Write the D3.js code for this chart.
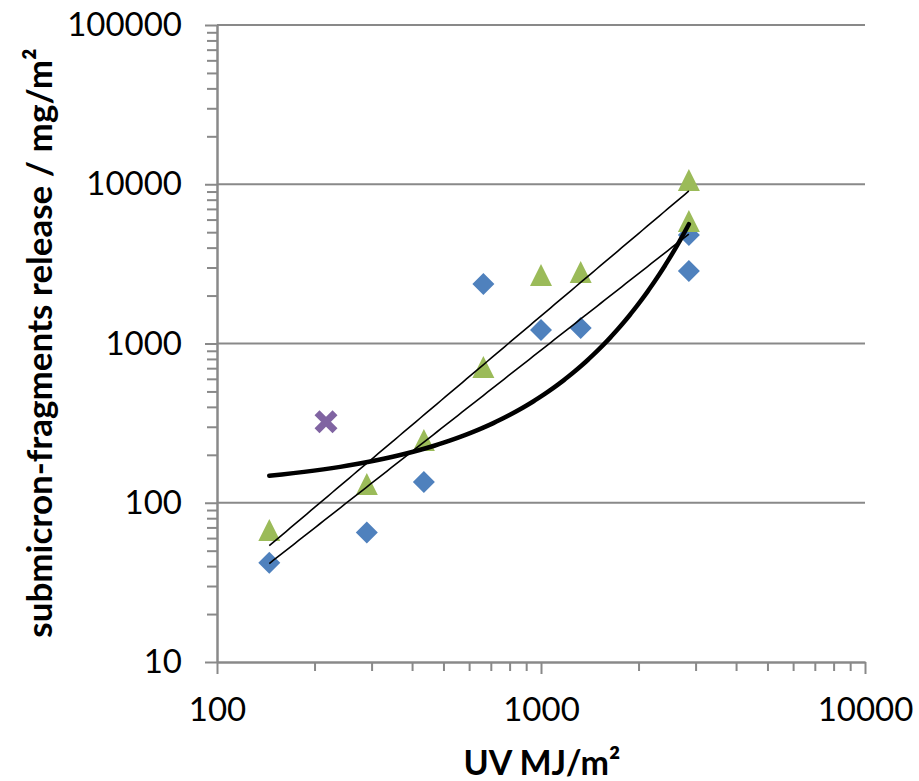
<!DOCTYPE html>
<html><head><meta charset="utf-8">
<script src="https://cdn.jsdelivr.net/npm/d3@7"></script>
<style>body{margin:0;background:#fff}</style></head>
<body><svg id="c" width="919" height="781"></svg>
<script>
const blueX = [145, 290, 435, 664, 1000, 1326, 2860, 2860];
const blueY = [42, 65, 135, 2366, 1216, 1250, 4800, 2850];
const greenX = [145, 290, 435, 664, 1000, 1326, 2860, 2860];
const greenY = [67.5, 131, 248, 711, 2692, 2813, 10640, 5877];
const purpleX = [217];
const purpleY = [323];
const xTicks = [100, 1000, 10000];
const yTicks = [10, 100, 1000, 10000, 100000];
const xTitle = "UV MJ/m²";
const yTitle = "submicron-fragments release / mg/m²";

const svg = d3.select("#c");
const x = d3.scaleLog().domain([100, 10000]).range([217, 865]);
const y = d3.scaleLog().domain([10, 100000]).range([662, 25]);
const font = "Lato, 'Open Sans', sans-serif";
const gray = "#898989";

// minor ticks
const minorX = [], minorY = [];
for (let d = 100; d < 10000; d *= 10) for (let k = 2; k <= 9; k++) minorX.push(d * k);
for (let d = 10; d < 100000; d *= 10) for (let k = 2; k <= 9; k++) minorY.push(d * k);

// gridlines
svg.append("g").selectAll("line").data(yTicks.slice(1)).join("line")
  .attr("x1", x(100)).attr("x2", x(10000))
  .attr("y1", d => y(d)).attr("y2", d => y(d))
  .attr("stroke", gray).attr("stroke-width", 2);

// Y axis
const gy = svg.append("g").attr("transform", `translate(${x(100)},0)`);
gy.call(d3.axisLeft(y).tickValues(minorY).tickSize(10).tickSizeOuter(0).tickFormat(""));
gy.call(g => g.append("g").call(d3.axisLeft(y).tickValues(yTicks).tickSize(12).tickPadding(23).tickSizeOuter(0).tickFormat(d3.format("d"))));
gy.selectAll("path,line").attr("stroke", gray).attr("stroke-width", 2);
gy.selectAll("text").attr("font-family", font).attr("font-size", 33).attr("fill", "#000");

// X axis
const gx = svg.append("g").attr("transform", `translate(0,${y(10)})`);
gx.call(d3.axisBottom(x).tickValues(minorX).tickSize(9).tickSizeOuter(0).tickFormat(""));
gx.call(g => g.append("g").call(d3.axisBottom(x).tickValues(xTicks).tickSize(12).tickPadding(24).tickSizeOuter(0).tickFormat(d3.format("d"))));
gx.selectAll("path,line").attr("stroke", gray).attr("stroke-width", 2);
gx.selectAll("text").attr("font-family", font).attr("font-size", 33).attr("fill", "#000");

// markers
const blue = blueX.map((v, i) => [v, blueY[i]]);
const green = greenX.map((v, i) => [v, greenY[i]]);
const purple = purpleX.map((v, i) => [v, purpleY[i]]);
svg.append("g").selectAll("path").data(blue).join("path")
  .attr("transform", d => `translate(${x(d[0])},${y(d[1])})`)
  .attr("d", "M0,-11L11,0L0,11L-11,0Z").attr("fill", "#4F81BD");
svg.append("g").selectAll("path").data(green).join("path")
  .attr("transform", d => `translate(${x(d[0])},${y(d[1])})`)
  .attr("d", "M0,-11L11,11L-11,11Z").attr("fill", "#9BBB59");
svg.append("g").selectAll("path").data(purple).join("path")
  .attr("transform", d => `translate(${x(d[0])},${y(d[1])})`)
  .attr("d", "M-9,-9L9,9M9,-9L-9,9").attr("stroke", "#8064A2").attr("stroke-width", 7);

// fits
function linfit(xs, ys) {
  const n = xs.length, mx = d3.mean(xs), my = d3.mean(ys);
  let sxy = 0, sxx = 0;
  for (let i = 0; i < n; i++) { sxy += (xs[i] - mx) * (ys[i] - my); sxx += (xs[i] - mx) ** 2; }
  const b = sxy / sxx; return [my - b * mx, b];
}
function powerCurve(pts) {
  const [a, b] = linfit(pts.map(d => Math.log(d[0])), pts.map(d => Math.log(d[1])));
  const [lo, hi] = d3.extent(pts, d => d[0]);
  return d3.range(0, 101).map(i => { const xv = lo * Math.pow(hi / lo, i / 100); return [xv, Math.exp(a) * Math.pow(xv, b)]; });
}
function expCurve(pts) {
  const [a, b] = linfit(pts.map(d => d[0]), pts.map(d => Math.log(d[1])));
  const [lo, hi] = d3.extent(pts, d => d[0]);
  return d3.range(0, 201).map(i => { const xv = lo + (hi - lo) * i / 200; return [xv, Math.exp(a + b * xv)]; });
}
const line = d3.line().x(d => x(d[0])).y(d => y(d[1]));
svg.append("path").datum(powerCurve(green)).attr("d", line).attr("fill", "none").attr("stroke", "#000").attr("stroke-width", 1.6);
svg.append("path").datum(powerCurve(blue)).attr("d", line).attr("fill", "none").attr("stroke", "#000").attr("stroke-width", 1.6);
svg.append("path").datum(expCurve(blue)).attr("d", line).attr("fill", "none").attr("stroke", "#000").attr("stroke-width", 4.5).attr("stroke-linecap", "round");

// titles
svg.append("text").attr("x", 542).attr("y", 775).attr("text-anchor", "middle")
  .attr("font-family", font).attr("font-weight", "bold").attr("font-size", 34).text(xTitle);
svg.append("text").attr("transform", "translate(52,343) rotate(-90)").attr("text-anchor", "middle")
  .attr("font-family", font).attr("font-weight", "bold").attr("font-size", 35).text(yTitle);
</script></body></html>
